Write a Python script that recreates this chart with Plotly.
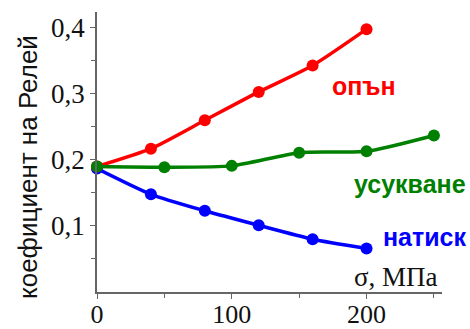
import plotly.graph_objects as go

# Stress, MPa
sigma_tension = [0, 40, 80, 120, 160, 200]
sigma_torsion = [0, 50, 100, 150, 200, 250]
sigma_compression = [0, 40, 80, 120, 160, 200]

# Rayleigh coefficient
k_tension = [0.190, 0.217, 0.260, 0.303, 0.343, 0.398]
k_torsion = [0.190, 0.189, 0.191, 0.211, 0.213, 0.237]
k_compression = [0.187, 0.148, 0.123, 0.101, 0.080, 0.066]

y_ticks = [0.1, 0.2, 0.3, 0.4]
y_tick_labels = ["0,1", "0,2", "0,3", "0,4"]
x_ticks = [0, 100, 200]

W, H = 470, 329
L, R, T, B = 97, 28, 12, 37
PW, PH = W - L - R, H - T - B
SERIF = "Liberation Serif, Times New Roman, serif"
SANS = "Liberation Sans, Arial, sans-serif"

fig = go.Figure()


def add_series(x, y, color):
    fig.add_trace(go.Scatter(
        x=x, y=y, mode="lines+markers",
        line=dict(color=color, width=3.5, shape="spline", smoothing=0.6),
        marker=dict(color=color, size=12),
        showlegend=False, cliponaxis=False,
    ))


add_series(sigma_compression, k_compression, "#0000ff")
add_series(sigma_tension, k_tension, "#ff0000")
add_series(sigma_torsion, k_torsion, "#008000")


def add_label(text, px, py, font, angle=0):
    # px, py: pixel position in the figure, converted to plot-area paper units
    fig.add_annotation(
        x=(px - L) / PW, y=(H - B - py) / PH, xref="paper", yref="paper",
        xanchor="center", yanchor="middle", text=text, showarrow=False,
        textangle=angle, font=font,
    )


add_label("<b>опън</b>", 364, 86, dict(family=SANS, size=25, color="#ff0000"))
add_label("<b>усукване</b>", 410, 184, dict(family=SANS, size=25, color="#008000"))
add_label("<b>натиск</b>", 425, 237, dict(family=SANS, size=25, color="#0000ff"))
add_label("σ, МПа", 396, 277, dict(family=SERIF, size=27, color="#111"))
add_label("коефициент на Релей", 28, 167, dict(family=SANS, size=26, color="#111"), angle=-90)

tick_font = dict(family=SERIF, size=27, color="#111")
fig.update_layout(
    width=W, height=H,
    margin=dict(l=L, r=R, t=T, b=B),
    paper_bgcolor="white", plot_bgcolor="white",
    xaxis=dict(
        range=[0, 256], tickvals=x_ticks, showgrid=False, zeroline=False,
        showline=True, linecolor="#666", linewidth=1.5, automargin=False,
        ticks="outside", ticklen=5, tickcolor="#666",
        tickfont=dict(family=SERIF, size=26, color="#111"),
        ticklabelstandoff=-7,
        minor=dict(tickvals=[50, 150, 250], ticks="outside", ticklen=4, tickcolor="#666"),
    ),
    yaxis=dict(
        range=[0, 0.424], tickvals=y_ticks, ticktext=y_tick_labels,
        showgrid=False, zeroline=False, automargin=False,
        showline=True, linecolor="#666", linewidth=1.5,
        ticks="outside", ticklen=5, tickcolor="#666", tickfont=tick_font,
        minor=dict(tickvals=[0.05, 0.15, 0.25, 0.35], ticks="outside", ticklen=4, tickcolor="#666"),
    ),
)

fig.write_html("out.html")
